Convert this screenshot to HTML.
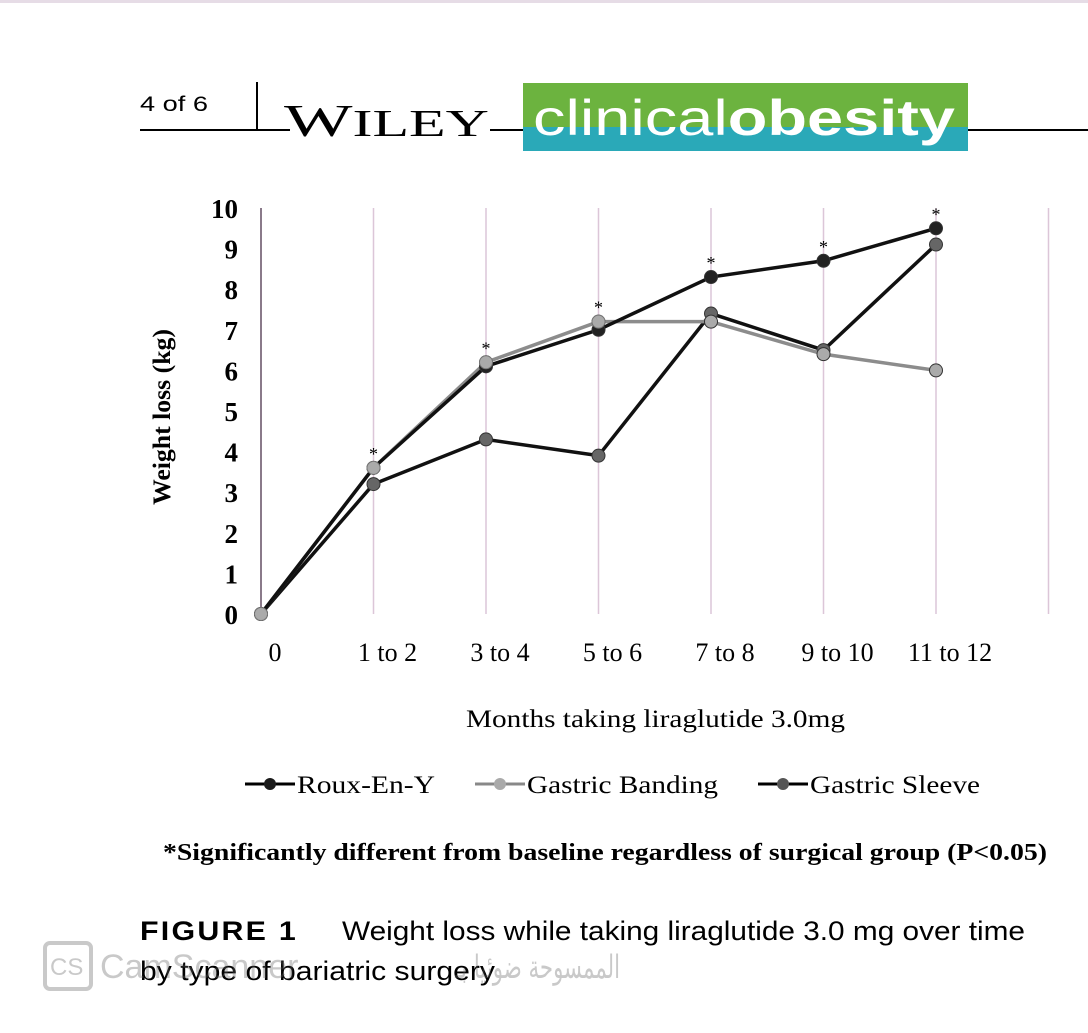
<!DOCTYPE html>
<html><head><meta charset="utf-8"><style>
body{margin:0;background:#fff;}
svg text{font-family:"Liberation Serif",serif;}
</style></head><body>
<svg width="1088" height="1028" viewBox="0 0 1088 1028" xmlns="http://www.w3.org/2000/svg">
<rect x="0" y="0" width="1088" height="3" fill="#e6dce6"/>
<g>
<text x="140" y="111" font-size="21" textLength="68" lengthAdjust="spacingAndGlyphs" style="font-family:'Liberation Sans',sans-serif">4 of 6</text>
<line x1="140" y1="130" x2="290" y2="130" stroke="#000" stroke-width="2"/>
<line x1="257" y1="82" x2="257" y2="130" stroke="#000" stroke-width="2"/>
<text x="284" y="136" font-size="46" textLength="205" lengthAdjust="spacingAndGlyphs">W<tspan font-size="38">ILEY</tspan></text>
<line x1="490" y1="130" x2="524" y2="130" stroke="#000" stroke-width="2"/>
<rect x="523" y="83" width="445" height="44" fill="#6cb33f"/>
<rect x="523" y="127" width="445" height="24" fill="#2aa9b8"/>
<text x="533" y="135" font-size="50" fill="#fff" textLength="422" lengthAdjust="spacingAndGlyphs" style="font-family:'Liberation Sans',sans-serif">clinical<tspan font-weight="bold">obesity</tspan></text>
<line x1="968" y1="130" x2="1088" y2="130" stroke="#000" stroke-width="2"/>
</g>
<g id="chart"></g>
<text x="466" y="727" font-size="25" textLength="379" lengthAdjust="spacingAndGlyphs">Months taking liraglutide 3.0mg</text>
<text transform="translate(170,505) rotate(-90)" font-size="25" font-weight="bold" textLength="176" lengthAdjust="spacingAndGlyphs">Weight loss (kg)</text>
<g>
<g><line x1="245" y1="784" x2="295" y2="784" stroke="#000" stroke-width="3"/><circle cx="270" cy="784" r="6" fill="#1a1a1a"/><text x="297" y="793" font-size="25" textLength="138" lengthAdjust="spacingAndGlyphs">Roux-En-Y</text></g>
<g><line x1="475" y1="784" x2="525" y2="784" stroke="#888" stroke-width="3"/><circle cx="500" cy="784" r="6" fill="#aaa"/><text x="527" y="793" font-size="25" textLength="191" lengthAdjust="spacingAndGlyphs">Gastric Banding</text></g>
<g><line x1="758" y1="784" x2="808" y2="784" stroke="#000" stroke-width="3"/><circle cx="783" cy="784" r="6" fill="#555"/><text x="810" y="793" font-size="25" textLength="170" lengthAdjust="spacingAndGlyphs">Gastric Sleeve</text></g>
</g>
<text x="163" y="860" font-size="24" font-weight="bold" textLength="884" lengthAdjust="spacingAndGlyphs">*Significantly different from baseline regardless of surgical group (P&lt;0.05)</text>
<text x="140" y="940" font-size="27" font-weight="bold" letter-spacing="2" textLength="158" lengthAdjust="spacingAndGlyphs" style="font-family:'Liberation Sans',sans-serif">FIGURE 1</text>
<text x="342" y="940" font-size="27" textLength="683" lengthAdjust="spacingAndGlyphs" style="font-family:'Liberation Sans',sans-serif">Weight loss while taking liraglutide 3.0 mg over time</text>
<text x="140" y="980" font-size="27" textLength="355" lengthAdjust="spacingAndGlyphs" style="font-family:'Liberation Sans',sans-serif">by type of bariatric surgery</text>
<g opacity="0.35">
<rect x="45" y="943" width="46" height="46" rx="5" fill="none" stroke="#666" stroke-width="4"/>
<text x="50" y="975" font-size="24" fill="#666" style="font-family:'Liberation Sans',sans-serif">CS</text>
<text x="100" y="978" font-size="34" fill="#666" style="font-family:'Liberation Sans',sans-serif">CamScanner</text>
<text x="455" y="978" font-size="32" fill="#666" textLength="165" lengthAdjust="spacingAndGlyphs" style="font-family:'DejaVu Sans',sans-serif">الممسوحة ضوئيا بـ</text>
</g>
</svg>
<script>
const categories=["0","1 to 2","3 to 4","5 to 6","7 to 8","9 to 10","11 to 12"];
const yTicks=[0,1,2,3,4,5,6,7,8,9,10];
const rouxValues=[0,3.6,6.1,7.0,8.3,8.7,9.5];
const bandingValues=[0,3.6,6.2,7.2,7.2,6.4,6.0];
const sleeveValues=[0,3.2,4.3,3.9,7.4,6.5,9.1];
const significant=[false,true,true,true,true,true,true];

const NS="http://www.w3.org/2000/svg";
const g=document.getElementById('chart');
const x0=261,dx=112.5,yBase=614,yTop=208;
const xs=i=>x0+i*dx;
const ys=v=>yBase-(v/10)*(yBase-yTop);
function mk(t,a){const e=document.createElementNS(NS,t);for(const k in a)e.setAttribute(k,a[k]);g.appendChild(e);return e;}
let ax=mk('line',{x1:x0,y1:yTop,x2:x0,y2:yBase,stroke:'#8a7a8a','stroke-width':2});


for(let i=1;i<=7;i++){const l=mk('line',{x1:xs(i),y1:yTop,x2:xs(i),y2:yBase,stroke:'#dcc6d8','stroke-width':1.5});

}
yTicks.forEach(v=>{const t=mk('text',{x:238,y:ys(v)+10,'text-anchor':'end','font-size':27,'font-weight':'bold'});t.textContent=v;

});
categories.forEach((c,i)=>{const t=mk('text',{x:xs(i)+14,y:661,'text-anchor':'middle','font-size':26});t.textContent=c;

});
function series(vals,line,fill,name){
const p=mk('polyline',{points:vals.map((v,i)=>xs(i)+','+ys(v)).join(' '),fill:'none',stroke:line,'stroke-width':3.5});


vals.forEach((v,i)=>{const c=mk('circle',{cx:xs(i),cy:ys(v),r:6.5,fill:fill,stroke:'#333','stroke-width':1});

});
}
series(sleeveValues,'#111','#666','gastric-sleeve');
series(bandingValues,'#8c8c8c','#aaa','gastric-banding');
series(rouxValues,'#111','#222','roux-en-y');
bandingValues.slice(0,4).forEach((v,i)=>{const c=mk('circle',{cx:xs(i),cy:ys(v),r:6.5,fill:'#aaa',stroke:'#777','stroke-width':1});

});
significant.forEach((s,i)=>{if(!s)return;const m=Math.max(rouxValues[i],bandingValues[i],sleeveValues[i]);
const t=mk('text',{x:xs(i),y:ys(m)-8,'text-anchor':'middle','font-size':18});t.textContent='*';

});
</script>
</body></html>
